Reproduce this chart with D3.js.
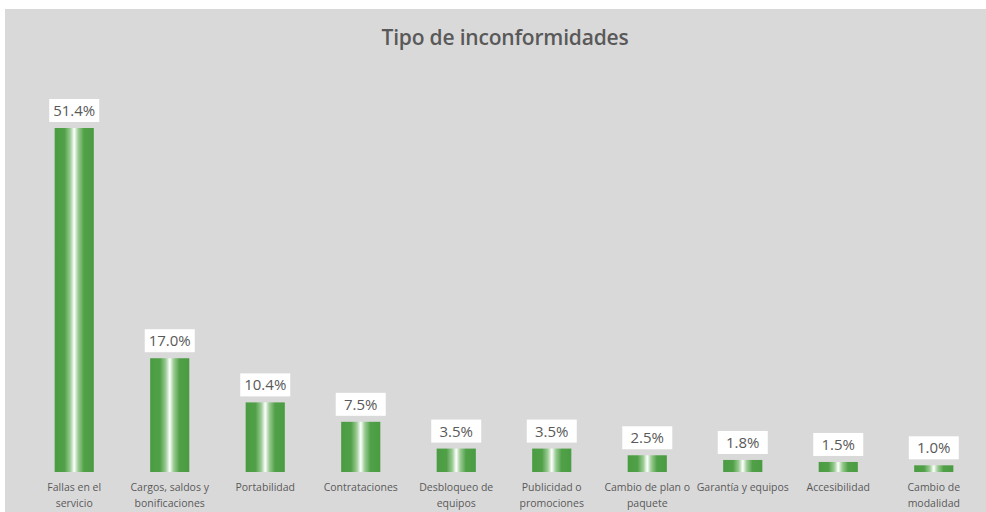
<!DOCTYPE html>
<html>
<head>
<meta charset="utf-8">
<style>
html, body { margin: 0; padding: 0; background: #fff; }
text { font-family: "Open Sans", "Noto Sans", sans-serif; fill: #595959; }
.title { font-size: 21px; font-weight: 600; letter-spacing: -0.2px; }
.val { font-size: 15px; }
.cat { font-size: 10.5px; }
</style>
</head>
<body>
<script src="https://cdn.jsdelivr.net/npm/d3@7"></script>
<script>
var width = 986
var height = 512

var categories = [
    ['Fallas en el', 'servicio'],
    ['Cargos, saldos y', 'bonificaciones'],
    ['Portabilidad'],
    ['Contrataciones'],
    ['Desbloqueo de', 'equipos'],
    ['Publicidad o', 'promociones'],
    ['Cambio de plan o', 'paquete'],
    ['Garantía y equipos'],
    ['Accesibilidad'],
    ['Cambio de', 'modalidad']
]
var values = [51.4, 17.0, 10.4, 7.5, 3.5, 3.5, 2.5, 1.8, 1.5, 1.0]

var svg = d3.select('body').append('svg')
    .attr('width', width)
    .attr('height', height)

var grad = svg.append('defs').append('linearGradient')
    .attr('id', 'barGrad')
    .attr('x1', '0%').attr('x2', '100%')
    .attr('y1', '0%').attr('y2', '0%')
grad.selectAll('stop')
    .data([[0, '#4a9c42'], [0.25, '#50a047'], [0.4, '#9ccc95'], [0.5, '#ffffff'], [0.6, '#9ccc95'], [0.75, '#50a047'], [1, '#4a9c42']])
    .enter().append('stop')
    .attr('offset', function (d) { return d[0] })
    .attr('stop-color', function (d) { return d[1] })

svg.append('rect')
    .attr('x', 5).attr('y', 9)
    .attr('width', width - 5).attr('height', height - 9)
    .attr('fill', '#d9d9d9')

svg.append('text')
    .attr('class', 'title')
    .attr('x', 505).attr('y', 45)
    .attr('text-anchor', 'middle')
    .text('Tipo de inconformidades')

var x = d3.scaleBand()
    .domain(d3.range(values.length))
    .range([26, 982])
    .paddingInner(0.59)
    .paddingOuter(0.3)

var y = d3.scaleLinear()
    .domain([0, 51.4])
    .range([472, 128])

svg.selectAll('rect.bar')
    .data(values)
    .enter().append('rect')
    .attr('class', 'bar')
    .attr('x', function (d, i) { return x(i) })
    .attr('y', function (d) { return y(d) })
    .attr('width', x.bandwidth())
    .attr('height', function (d) { return y(0) - y(d) })
    .attr('fill', 'url(#barGrad)')

var labels = svg.selectAll('g.lbl')
    .data(values)
    .enter().append('g')
    .attr('class', 'lbl')
    .attr('transform', function (d, i) { return 'translate(' + (x(i) + x.bandwidth() / 2) + ',' + y(d) + ')' })

labels.append('rect')
    .attr('x', -25).attr('y', -29)
    .attr('width', 50).attr('height', 23)
    .attr('fill', '#fff')

labels.append('text')
    .attr('class', 'val')
    .attr('text-anchor', 'middle')
    .attr('y', -12)
    .text(function (d) { return d.toFixed(1) + '%' })

var cats = svg.selectAll('text.cat')
    .data(categories)
    .enter().append('text')
    .attr('class', 'cat')
    .attr('text-anchor', 'middle')
    .attr('x', function (d, i) { return x(i) + x.bandwidth() / 2 })
    .attr('y', 491)

cats.selectAll('tspan')
    .data(function (d) { return d })
    .enter().append('tspan')
    .attr('x', function () { return d3.select(this.parentNode).attr('x') })
    .attr('dy', function (d, i) { return i ? 16 : 0 })
    .text(function (d) { return d })
</script>
</body>
</html>
